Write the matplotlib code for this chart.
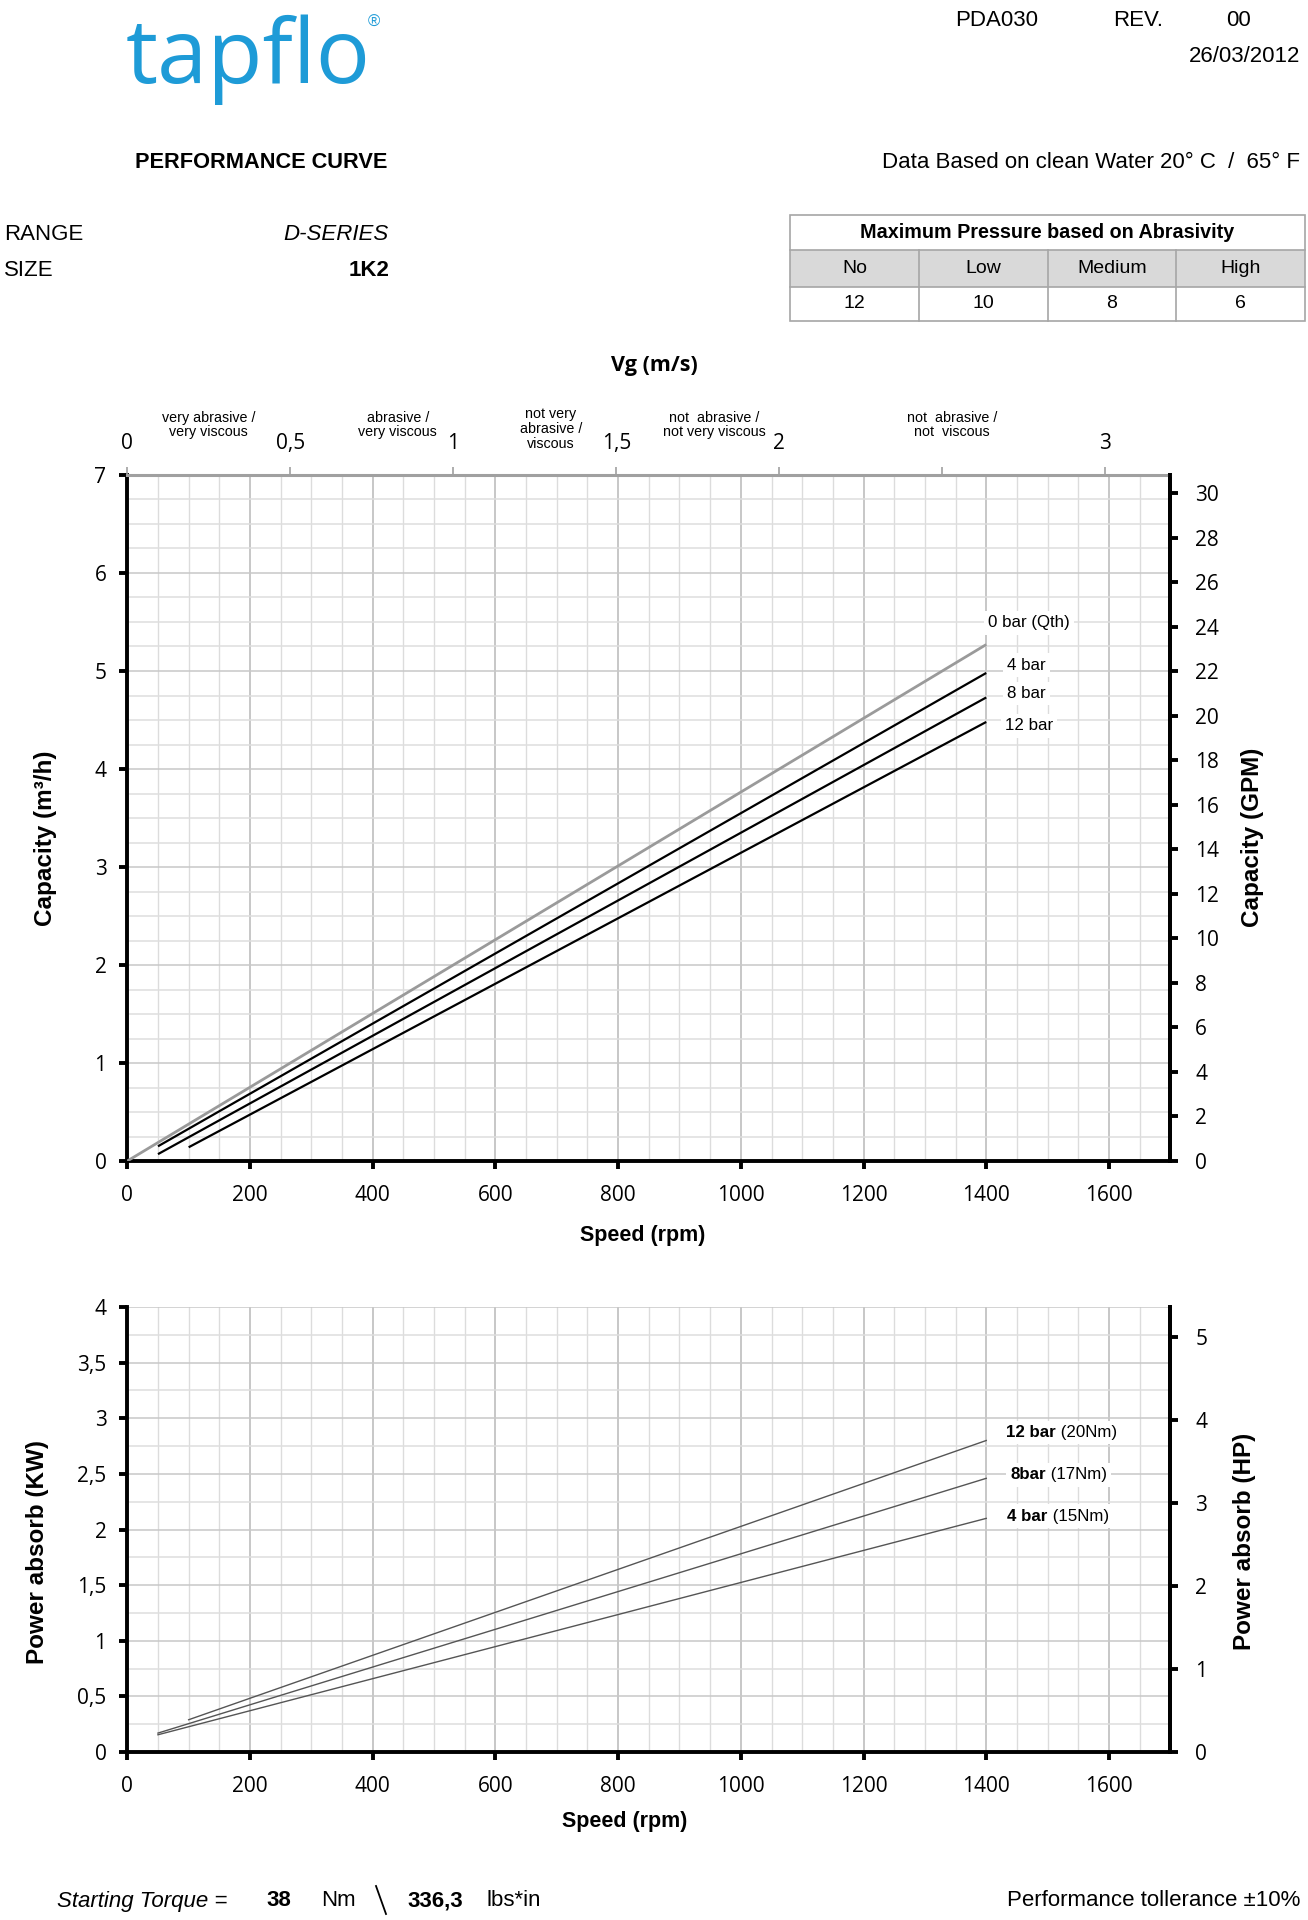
import matplotlib
matplotlib.use("Agg")
import matplotlib.pyplot as plt
import numpy as np
from matplotlib.patches import Rectangle
from matplotlib.transforms import blended_transform_factory
from matplotlib.lines import Line2D

# ---------------- data ----------------
speed_qth = [0, 1400]
cap_qth = [0.0, 5.27]
speed_4bar = [50, 1400]
cap_4bar = [0.15, 4.98]
speed_8bar = [50, 1400]
cap_8bar = [0.07, 4.73]
speed_12bar = [100, 1400]
cap_12bar = [0.14, 4.48]

pspeed_4bar = [50, 1400]
power_4bar = [0.155, 2.10]
pspeed_8bar = [50, 1400]
power_8bar = [0.17, 2.46]
pspeed_12bar = [100, 1400]
power_12bar = [0.29, 2.80]

speed_ticks = [0, 200, 400, 600, 800, 1000, 1200, 1400, 1600]
cap_ticks = [0, 1, 2, 3, 4, 5, 6, 7]
gpm_ticks = list(range(0, 31, 2))
vg_ticks = [0, 0.5, 1, 1.5, 2, 2.5, 3]
vg_labels = ["0", "0,5", "1", "1,5", "2", "", "3"]
vg_categories = ["very abrasive /\nvery viscous", "abrasive /\nvery viscous",
                 "not very\nabrasive /\nviscous", "not  abrasive /\nnot very viscous",
                 "not  abrasive /\nnot  viscous"]
vg_cat_pos = [0.25, 0.83, 1.30, 1.80, 2.53]
kw_ticks = [0, 0.5, 1, 1.5, 2, 2.5, 3, 3.5, 4]
kw_labels = ["0", "0,5", "1", "1,5", "2", "2,5", "3", "3,5", "4"]
hp_ticks = [0, 1, 2, 3, 4, 5]
table_header = ["No", "Low", "Medium", "High"]
table_values = ["12", "10", "8", "6"]

RPM_PER_VG = 531.3
GPM_PER_M3H = 4.403
HP_PER_KW = 1.341

W, H = 1308, 1920
fig = plt.figure(figsize=(W / 100, H / 100), dpi=100)

def fx(x):
    return x / W

def fy(y):
    return 1 - y / H

ARIAL = "Liberation Sans"
CAL = "Open Sans"
TICKFS = 15
HFS = 16
YLFS = 17.5
LBLFS = 12.2

# ---------------- header ----------------
fig.text(fx(126), fy(83), "tapflo", family=CAL, fontsize=65, color="#1E9BD7",
         ha="left", va="baseline")
fig.text(fx(374), fy(22), "®", family=ARIAL, fontsize=12, color="#1E9BD7", ha="center", va="center")
fig.text(fx(955), fy(21), "PDA030", family=ARIAL, fontsize=HFS, ha="left", va="center")
fig.text(fx(1113), fy(21), "REV.", family=ARIAL, fontsize=HFS, ha="left", va="center")
fig.text(fx(1226), fy(21), "00", family=ARIAL, fontsize=HFS, ha="left", va="center")
fig.text(fx(1300), fy(56), "26/03/2012", family=ARIAL, fontsize=HFS, ha="right", va="center")
fig.text(fx(135), fy(163), "PERFORMANCE CURVE", family=ARIAL, fontsize=15.7,
         fontweight="bold", ha="left", va="center")
fig.text(fx(1300), fy(163), "Data Based on clean Water 20° C  /  65° F", family=ARIAL,
         fontsize=HFS, ha="right", va="center")
fig.text(fx(4), fy(234), "RANGE", family=ARIAL, fontsize=HFS, ha="left", va="center")
fig.text(fx(389), fy(234), "D-SERIES", family=ARIAL, fontsize=HFS, style="italic",
         ha="right", va="center")
fig.text(fx(4), fy(270), "SIZE", family=ARIAL, fontsize=HFS, ha="left", va="center")
fig.text(fx(389), fy(270), "1K2", family=ARIAL, fontsize=HFS, fontweight="bold",
         ha="right", va="center")

# ---------------- table ----------------
tx0, tx1 = 790, 1305
ty0, ty1, ty2, ty3 = 215, 250, 287, 321
bc = "#a6a6a6"
fig.patches.append(Rectangle((fx(tx0), fy(ty2)), fx(tx1) - fx(tx0), fy(ty1) - fy(ty2),
                             transform=fig.transFigure, facecolor="#d9d9d9", edgecolor="none"))
fig.patches.append(Rectangle((fx(tx0), fy(ty3)), fx(tx1) - fx(tx0), fy(ty0) - fy(ty3),
                             transform=fig.transFigure, facecolor="none", edgecolor=bc, lw=1.2))
for yy in (ty1, ty2):
    fig.lines.append(Line2D([fx(tx0), fx(tx1)], [fy(yy), fy(yy)], transform=fig.transFigure,
                            color=bc, lw=1.2))
cw = (tx1 - tx0) / 4
for k in range(1, 4):
    xx = tx0 + k * cw
    fig.lines.append(Line2D([fx(xx), fx(xx)], [fy(ty1), fy(ty3)], transform=fig.transFigure,
                            color=bc, lw=1.2))
fig.text(fx((tx0 + tx1) / 2), fy((ty0 + ty1) / 2), "Maximum Pressure based on Abrasivity",
         family=ARIAL, fontsize=14.2, fontweight="bold", ha="center", va="center")
for k in range(4):
    cx = tx0 + (k + 0.5) * cw
    fig.text(fx(cx), fy((ty1 + ty2) / 2), table_header[k], family=ARIAL, fontsize=14,
             ha="center", va="center")
    fig.text(fx(cx), fy((ty2 + ty3) / 2), table_values[k], family=ARIAL, fontsize=14,
             ha="center", va="center")

# ---------------- common axis styling ----------------
def style_grid(ax, ymax, ystep, ymajor):
    for s in np.arange(50, 1700, 50):
        major = (s % 200 == 0)
        ax.axvline(s, color="#bdbdbd" if major else "#dcdcdc", lw=1.2 if major else 1.0, zorder=0)
    for v in np.arange(ystep, ymax + 1e-9, ystep):
        major = abs(v / ymajor - round(v / ymajor)) < 1e-6
        ax.axhline(v, color="#c8c8c8" if major else "#dedede", lw=1.1, zorder=0)

def style_main(ax):
    for sp in ("left", "bottom", "right"):
        ax.spines[sp].set_linewidth(2.8)
        ax.spines[sp].set_color("black")
    ax.tick_params(axis="both", which="major", direction="out", length=6, width=2.8,
                   labelsize=TICKFS, pad=9, colors="black")
    ax.tick_params(axis="x", pad=11)

AXW = 1170.3 - 127.3

# ---------------- top chart ----------------
ax1 = fig.add_axes([fx(127.3), fy(1161), fx(1170.3) - fx(127.3), fy(475) - fy(1161)])
ax1.set_xlim(0, 1700)
ax1.set_ylim(0, 7)
style_grid(ax1, 7, 0.25, 1)
ax1.plot(speed_qth, cap_qth, color="#9a9a9a", lw=2.0, solid_capstyle="butt", zorder=3)
ax1.plot(speed_4bar, cap_4bar, color="black", lw=1.6, solid_capstyle="butt", zorder=3)
ax1.plot(speed_8bar, cap_8bar, color="black", lw=1.6, solid_capstyle="butt", zorder=3)
ax1.plot(speed_12bar, cap_12bar, color="black", lw=1.6, solid_capstyle="butt", zorder=3)
ax1.set_xticks(speed_ticks)
ax1.set_yticks(cap_ticks)
ax1.spines["top"].set_color("#a0a0a0")
ax1.spines["top"].set_linewidth(2.2)
style_main(ax1)
ax1.set_xticklabels([str(s) for s in speed_ticks], family=CAL)
ax1.set_yticklabels([str(c) for c in cap_ticks], family=CAL)
ax1.set_xlabel("Speed (rpm)", family=ARIAL, fontsize=15.5, fontweight="bold")
ax1.xaxis.set_label_coords((643 - 127.3) / AXW, -(1236 - 1161) / 686)
ax1.xaxis.label.set_va("center")
ax1.set_ylabel("Capacity (m³/h)", family=ARIAL, fontsize=YLFS, fontweight="bold")
ax1.yaxis.set_label_coords(-(127.3 - 45) / AXW, 0.5 - 20 / 686)
ax1.yaxis.label.set_va("center")

lbl_kw = dict(family=ARIAL, fontsize=LBLFS, ha="center", va="center", zorder=5,
              bbox=dict(facecolor="white", edgecolor="none", pad=3))
ax1.text(1470, 5.49, "0 bar (Qth)", **lbl_kw)
ax1.text(1465, 5.06, "4 bar", **lbl_kw)
ax1.text(1465, 4.77, "8 bar", **lbl_kw)
ax1.text(1470, 4.44, "12 bar", **lbl_kw)

ax1r = ax1.twinx()
ax1r.set_ylim(0, 7 * GPM_PER_M3H)
ax1r.set_yticks(gpm_ticks)
for sp in ("left", "top", "bottom"):
    ax1r.spines[sp].set_visible(False)
ax1r.spines["right"].set_linewidth(2.8)
ax1r.tick_params(axis="y", direction="out", length=6, width=2.8, labelsize=TICKFS, pad=12)
ax1r.set_yticklabels([str(g) for g in gpm_ticks], family=CAL)
ax1r.set_ylabel("Capacity (GPM)", family=ARIAL, fontsize=YLFS, fontweight="bold")
ax1r.yaxis.set_label_coords((1253 - 127.3) / AXW, 0.5 - 19 / 686)
ax1r.yaxis.label.set_va("center")

ax1t = ax1.twiny()
ax1t.set_xlim(0, 1700 / RPM_PER_VG)
ax1t.set_xticks(vg_ticks)
ax1t.set_xticklabels(vg_labels, family=CAL)
for sp in ("left", "right", "bottom", "top"):
    ax1t.spines[sp].set_visible(False)
ax1t.tick_params(axis="x", direction="out", length=6, width=1.2, colors="#a0a0a0",
                 labelcolor="black", labelsize=TICKFS, pad=9)
ax1t.set_xlabel("Vg (m/s)", family=CAL, fontsize=15.5, fontweight="bold")
ax1t.xaxis.set_label_coords((654 - 127.3) / AXW, 1 + (475 - 366) / 686)
ax1t.xaxis.label.set_va("center")
trans = blended_transform_factory(ax1t.transData, fig.transFigure)
for pos, txt in zip(vg_cat_pos, vg_categories):
    nl = txt.count("\n")
    yc = 429 if nl == 2 else 425
    ax1t.text(pos, fy(yc), txt, transform=trans, family=ARIAL, fontsize=10.3,
              ha="center", va="center", linespacing=1.05)

# ---------------- bottom chart ----------------
ax2 = fig.add_axes([fx(127.3), fy(1752), fx(1170.3) - fx(127.3), fy(1307) - fy(1752)])
ax2.set_xlim(0, 1700)
ax2.set_ylim(0, 4)
style_grid(ax2, 4, 0.25, 0.5)
for sx, sy in ((pspeed_4bar, power_4bar), (pspeed_8bar, power_8bar), (pspeed_12bar, power_12bar)):
    ax2.plot(sx, sy, color="#555555", lw=1.0, zorder=3)
ax2.set_xticks(speed_ticks)
ax2.set_yticks(kw_ticks)
ax2.spines["top"].set_visible(False)
style_main(ax2)
ax2.set_xticklabels([str(s) for s in speed_ticks], family=CAL)
ax2.set_yticklabels(kw_labels, family=CAL)
ax2.set_xlabel("Speed (rpm)", family=ARIAL, fontsize=15.5, fontweight="bold")
ax2.xaxis.set_label_coords((625 - 127.3) / AXW, -(1822 - 1752) / 445)
ax2.xaxis.label.set_va("center")
ax2.set_ylabel("Power absorb (KW)", family=ARIAL, fontsize=YLFS, fontweight="bold")
ax2.yaxis.set_label_coords(-(127.3 - 37) / AXW, 0.5 - 22 / 445)
ax2.yaxis.label.set_va("center")

for xb, y, b, r in ((1513, 2.87, "12 bar", " (20Nm)"), (1497, 2.49, "8bar", " (17Nm)"),
                    (1500, 2.12, "4 bar", " (15Nm)")):
    ax2.text(xb, y, b, family=ARIAL, fontsize=LBLFS, fontweight="bold", ha="right",
             va="center", bbox=dict(facecolor="white", edgecolor="none", pad=3), zorder=6)
    ax2.text(xb, y, r, family=ARIAL, fontsize=LBLFS, ha="left", va="center",
             bbox=dict(facecolor="white", edgecolor="none", pad=3), zorder=5)

ax2r = ax2.twinx()
ax2r.set_ylim(0, 4 * HP_PER_KW)
ax2r.set_yticks(hp_ticks)
for sp in ("left", "top", "bottom"):
    ax2r.spines[sp].set_visible(False)
ax2r.spines["right"].set_linewidth(2.8)
ax2r.tick_params(axis="y", direction="out", length=6, width=2.8, labelsize=TICKFS, pad=12)
ax2r.set_yticklabels([str(h) for h in hp_ticks], family=CAL)
ax2r.set_ylabel("Power absorb (HP)", family=ARIAL, fontsize=YLFS, fontweight="bold")
ax2r.yaxis.set_label_coords((1245 - 127.3) / AXW, 0.5 - 12 / 445)
ax2r.yaxis.label.set_va("center")

# ---------------- footer ----------------
fy_f = fy(1901)
fig.text(fx(57), fy_f, "Starting Torque =", family=ARIAL, fontsize=HFS, style="italic",
         ha="left", va="center")
fig.text(fx(266), fy_f, "38", family=ARIAL, fontsize=HFS, fontweight="bold", ha="left", va="center")
fig.text(fx(321), fy_f, "Nm", family=ARIAL, fontsize=HFS, ha="left", va="center")
fig.lines.append(Line2D([fx(376), fx(386)], [fy(1886), fy(1914)], transform=fig.transFigure,
                        color="black", lw=1.3))
fig.text(fx(407), fy_f, "336,3", family=ARIAL, fontsize=HFS, fontweight="bold", ha="left", va="center")
fig.text(fx(486), fy_f, "lbs*in", family=ARIAL, fontsize=HFS, ha="left", va="center")
fig.text(fx(1300), fy_f, "Performance tollerance ±10%", family=ARIAL, fontsize=HFS,
         ha="right", va="center")

fig.savefig("out.png", dpi=100)
